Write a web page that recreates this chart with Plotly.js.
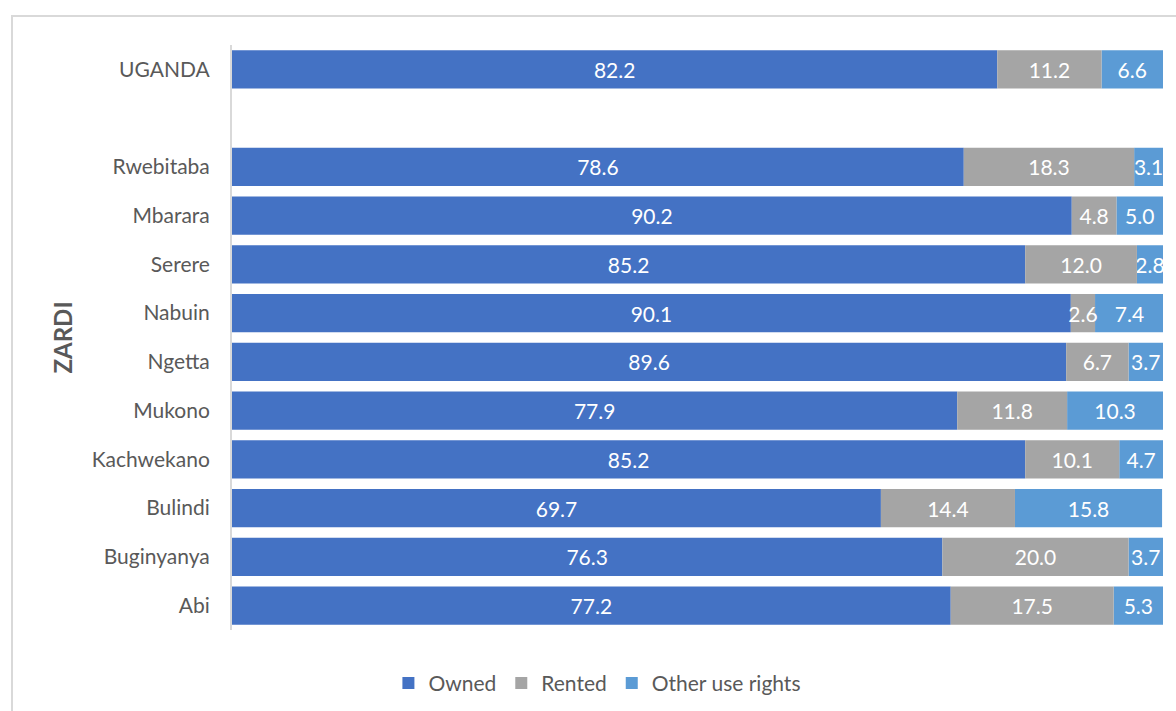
<!DOCTYPE html>
<html>
<head>
<meta charset="utf-8">
<script src="https://cdn.plot.ly/plotly-3.0.1.min.js"></script>
<style>
  html, body { margin: 0; padding: 0; background: #fff; }
  #chart { width: 1176px; height: 711px; }
  #frame { position: absolute; left: 11px; top: 15px; width: 1200px; height: 760px;
           border: 2px solid #d9d9d9; pointer-events: none; box-sizing: border-box; }
</style>
</head>
<body>
<div id="chart"></div>
<div id="frame"></div>
<script>
// Categories (bottom to top); " " is the blank spacer row
const categories = ["Abi", "Buginyanya", "Bulindi", "Kachwekano", "Mukono", "Ngetta",
                    "Nabuin", "Serere", "Mbarara", "Rwebitaba", " ", "UGANDA"];
const rows   = ["Abi", "Buginyanya", "Bulindi", "Kachwekano", "Mukono", "Ngetta",
                "Nabuin", "Serere", "Mbarara", "Rwebitaba", "UGANDA"];
const owned  = [77.2, 76.3, 69.7, 85.2, 77.9, 89.6, 90.1, 85.2, 90.2, 78.6, 82.2];
const rented = [17.5, 20.0, 14.4, 10.1, 11.8, 6.7, 2.6, 12.0, 4.8, 18.3, 11.2];
const other  = [5.3, 3.7, 15.8, 4.7, 10.3, 3.7, 7.4, 2.8, 5.0, 3.1, 6.6];
const seriesNames = ["Owned", "Rented", "Other use rights"];
const axisTitle = "ZARDI";

const colors = ["#4472C4", "#A5A5A5", "#5B9BD5"];
const font = "Lato, 'Liberation Sans', sans-serif";
const gray = "#595959";

const series = [owned, rented, other];
// stacked bases computed from the data
const bases = series.map((vals, i) => vals.map((v, k) => {
  let b = 0;
  for (let j = 0; j < i; j++) b += series[j][k];
  return b;
}));

function barTrace(i) {
  return {
    type: "bar",
    orientation: "h",
    name: seriesNames[i],
    legendrank: i + 1,
    y: rows,
    x: series[i],
    base: bases[i],
    marker: { color: colors[i], line: { width: 0 } },
    texttemplate: "%{x:.1f}",
    textposition: "inside",
    insidetextanchor: "middle",
    textangle: 0,
    constraintext: "none",
    textfont: { family: font, size: 21, color: "#ffffff" },
    hoverinfo: "x+y+name"
  };
}

// draw order: Owned, Other, Rented (so narrow Rented labels stay on top)
const traces = [barTrace(0), barTrace(2), barTrace(1)];

const layout = {
  width: 1176, height: 711,
  margin: { l: 232, r: 13, t: 45, b: 81 },
  paper_bgcolor: "#ffffff",
  plot_bgcolor: "#ffffff",
  barmode: "overlay",
  bargap: 0.22,
  font: { family: font, color: gray, size: 21 },
  xaxis: { range: [0, 100], visible: false, fixedrange: true },
  yaxis: {
    type: "category",
    categoryorder: "array",
    categoryarray: categories,
    range: [-0.5, categories.length - 0.5],
    showline: true, linecolor: "#d9d9d9", linewidth: 2,
    showgrid: false, zeroline: false,
    ticks: "", ticklabelstandoff: 16,
    tickfont: { family: font, size: 21, color: gray },
    title: { text: axisTitle, font: { family: font, size: 24, color: gray, weight: "bold" }, standoff: 12 },
    fixedrange: true
  },
  showlegend: true,
  legend: {
    orientation: "h",
    xref: "container", yref: "container",
    x: 0.508, xanchor: "center",
    y: 0.039, yanchor: "middle",
    font: { family: font, size: 21, color: gray },
    itemclick: false, itemdoubleclick: false,
    traceorder: "normal"
  }
};

Plotly.newPlot("chart", traces, layout, { displayModeBar: false, staticPlot: true });
</script>
</body>
</html>
